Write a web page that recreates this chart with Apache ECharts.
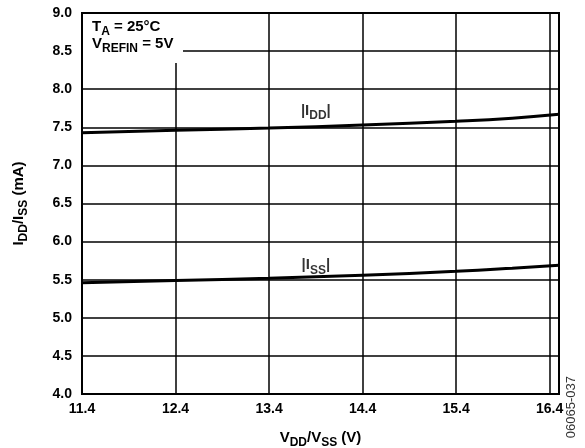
<!DOCTYPE html>
<html><head><meta charset="utf-8">
<script src="https://cdn.jsdelivr.net/npm/echarts@6/dist/echarts.min.js"></script>
<style>html,body{margin:0;padding:0;background:#fff}#c{width:585px;height:448px}</style>
</head><body><div id="c"></div>
<script>
// Data
const xStart = 11.4;             // first x tick value (V)
const xEnd = 16.5;               // right edge of plot (V)
const vSupply = [11.4, 12.4, 13.4, 14.4, 15.4, 16.0, 16.5];
const iddValues = [7.43, 7.46, 7.49, 7.53, 7.58, 7.62, 7.67];
const issValues = [5.46, 5.49, 5.52, 5.56, 5.61, 5.65, 5.69];
const yTicks = [4.0, 4.5, 5.0, 5.5, 6.0, 6.5, 7.0, 7.5, 8.0, 8.5, 9.0];
const curveLabels = [
  { v: 13.9, i: 7.74, text: '{m||I}{s|DD}{m||}' },
  { v: 13.9, i: 5.71, text: '{m||I}{s|SS}{m||}' }
];

const FONT = 'Liberation Sans, Arial, sans-serif';
const rel = v => +(v - xStart).toFixed(4);
const pts = (xs, ys) => xs.map((x, k) => [rel(x), ys[k]]);

const rich = {
  m: { fontSize: 15, fontWeight: 'bold', color: '#000', fontFamily: FONT, verticalAlign: 'bottom', lineHeight: 18 },
  s: { fontSize: 12, fontWeight: 'bold', color: '#000', fontFamily: FONT, verticalAlign: 'bottom', lineHeight: 18, padding: [0, 0, -4, 0] }
};

const chart = echarts.init(document.getElementById('c'), null, { renderer: 'canvas' });
chart.setOption({
  animation: false,
  backgroundColor: '#fff',
  grid: { left: 82, right: 26, top: 13, bottom: 54, outerBoundsMode: 'none', containLabel: false,
    show: true, borderColor: '#000', borderWidth: 2, backgroundColor: 'transparent' },
  xAxis: {
    type: 'value', min: 0, max: rel(xEnd), interval: 1,
    axisLine: { show: true, lineStyle: { color: '#000', width: 2 } },
    axisTick: { show: false },
    splitLine: { show: true, lineStyle: { color: '#000', width: 1.5 } },
    axisLabel: { fontSize: 14, fontWeight: 'bold', color: '#000', fontFamily: FONT, margin: 8,
      formatter: v => (v + xStart).toFixed(1), showMaxLabel: false },
    name: '{m|V}{s|DD}{m|/V}{s|SS}{m| (V)}',
    nameLocation: 'middle', nameGap: 33,
    nameTextStyle: { rich: rich }
  },
  yAxis: {
    type: 'value', min: yTicks[0], max: yTicks[yTicks.length - 1], interval: 0.5,
    axisLine: { show: true, lineStyle: { color: '#000', width: 2 } },
    axisTick: { show: false },
    splitLine: { show: true, lineStyle: { color: '#000', width: 1.5 } },
    axisLabel: { fontSize: 14, fontWeight: 'bold', color: '#000', fontFamily: FONT, margin: 10,
      formatter: v => v.toFixed(1) },
    name: '{m|I}{s|DD}{m|/I}{s|SS}{m| (mA)}',
    nameLocation: 'middle', nameGap: 56, nameRotate: 90,
    nameTextStyle: { rich: rich }
  },
  series: [
    { type: 'line', data: pts(vSupply, iddValues), showSymbol: false, smooth: true,
      lineStyle: { color: '#000', width: 3 }, z: 5 },
    { type: 'line', data: pts(vSupply, issValues), showSymbol: false, smooth: true,
      lineStyle: { color: '#000', width: 3 }, z: 5 },
    { type: 'scatter', symbolSize: 0, z: 6,
      data: curveLabels.map(c => ({ value: [rel(c.v), c.i],
        label: { show: true, position: 'inside', formatter: c.text, rich: rich } })) }
  ],
  graphic: [
    { type: 'rect', left: 83, top: 14, shape: { width: 100, height: 49 }, style: { fill: '#fff' }, z: 10 },
    { type: 'text', left: 92, top: 19, z: 11,
      style: { text: '{m|T}{s|A}{m| = 25°C}\n{m|V}{s|REFIN}{m| = 5V}', rich: {
        m: { fontSize: 15, fontWeight: 'bold', fill: '#000', fontFamily: FONT, verticalAlign: 'bottom', lineHeight: 17 },
        s: { fontSize: 12, fontWeight: 'bold', fill: '#000', fontFamily: FONT, verticalAlign: 'bottom', lineHeight: 17, padding: [0, 0, -4, 0] } } } },
    { type: 'text', right: 7, top: 376, rotation: Math.PI / 2, z: 11,
      style: { text: '06065-037', fontSize: 13, fill: '#333', fontFamily: FONT } }
  ]
});
</script></body></html>
